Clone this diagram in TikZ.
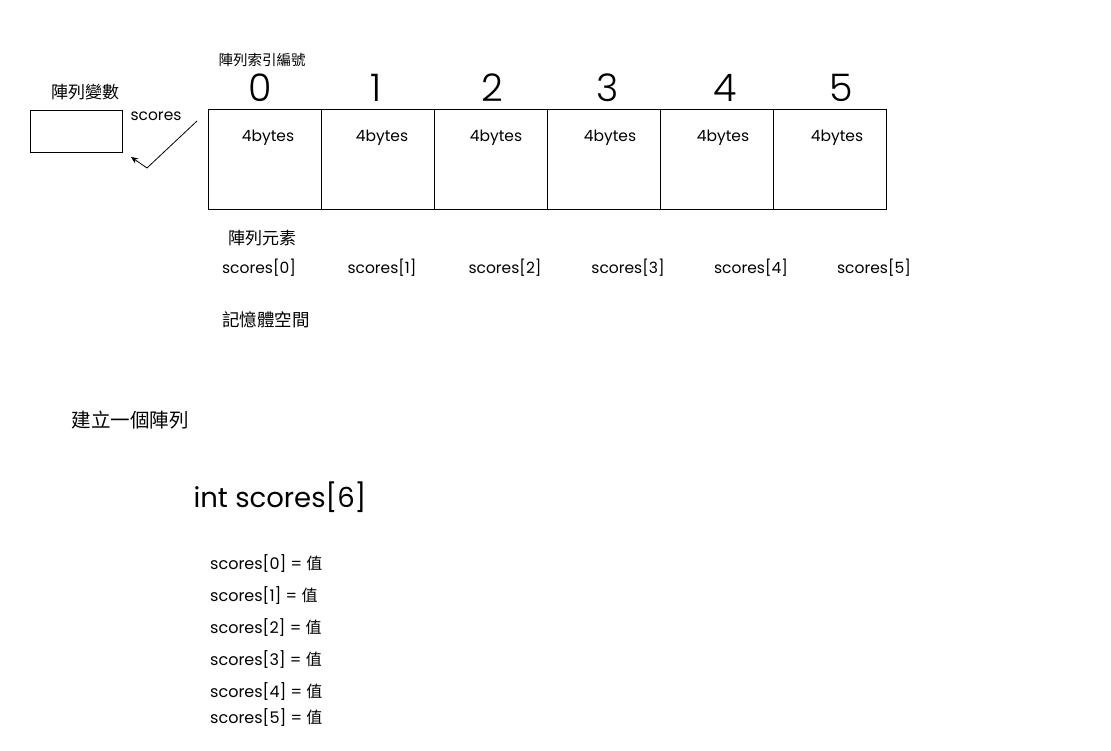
\documentclass[tikz,border=0pt]{standalone}
\usepackage{fontspec}
\setmainfont{Poppins}
\newfontfamily\thin{Poppins Light}
\newfontfamily\cjk{Noto Sans CJK TC}
\usetikzlibrary{arrows.meta}
\tikzset{
  cell/.style={draw, line width=0.8pt, minimum width=113pt, minimum height=100pt, inner sep=0pt, anchor=north west},
  idx/.style={font=\thin\fontsize{38}{40}\selectfont, inner sep=0pt},
  bytes/.style={font=\fontsize{15.5}{18}\selectfont, inner sep=0pt},
  elem/.style={font=\fontsize{15.5}{18}\selectfont, inner sep=0pt},
  cjklab/.style={font=\cjk\fontsize{16}{18}\selectfont, inner sep=0pt},
  lst/.style={font=\fontsize{16}{18}\selectfont, inner sep=0pt, anchor=west},
}
\begin{document}
\begin{tikzpicture}[x=1pt,y=-1pt]
\useasboundingbox (0,0) rectangle (1111,751);
% variable box
\node[draw, line width=0.8pt, minimum width=92pt, minimum height=42pt, inner sep=0pt, anchor=north west] (var) at (30,110) {};
\node[cjklab, font=\cjk\fontsize{17}{19}\selectfont] (varlab) at (85,92) {陣列變數};
\node[elem] (sc) at (156,116) {scores};
% array cells
\foreach \i/\x in {0/208,1/321,2/434,3/547,4/660,5/773} {
  \node[cell] (c\i) at (\x,109) {};
}
\node[cjklab, font=\cjk\fontsize{14.5}{16}\selectfont] (idxlab) at (262,60) {陣列索引編號};
\foreach \i/\x in {0/260,1/376,2/492,3/608,4/725,5/841} {
  \node[idx] (n\i) at (\x,88) {\i};
}
\foreach \i/\x in {0/268,1/382,2/496,3/610,4/723,5/837} {
  \node[bytes] (b\i) at (\x,138) {4bytes};
}
\node[cjklab, font=\cjk\fontsize{17}{19}\selectfont] (ellab) at (262,238) {陣列元素};
\foreach \i/\x in {0/259,1/382,2/505,3/628,4/751,5/874} {
  \node[elem] (e\i) at (\x,268) {scores[\i]};
}
\node[cjklab, font=\cjk\fontsize{17.5}{19}\selectfont] (mem) at (266,320) {記憶體空間};
\node[cjklab, font=\cjk\fontsize{19.5}{21}\selectfont] (create) at (130,420) {建立一個陣列};
\node[font=\fontsize{27.5}{32}\selectfont, inner sep=0pt] (decl) at (280,497) {int scores[6]};
\foreach \i/\y in {0/564,1/596,2/628,3/660,4/692,5/718} {
  \node[lst] (l\i) at (210,\y) {scores[\i] = {\cjk 值}};
}
% arrow
\coordinate (as) at (197,121);
\coordinate (ab) at (147,168);
\coordinate (ae) at (131,157);
\draw[line width=0.8pt, -{Stealth[length=7pt,width=6pt]}] (as) -- (ab) -- (ae);
\end{tikzpicture}
\end{document}
